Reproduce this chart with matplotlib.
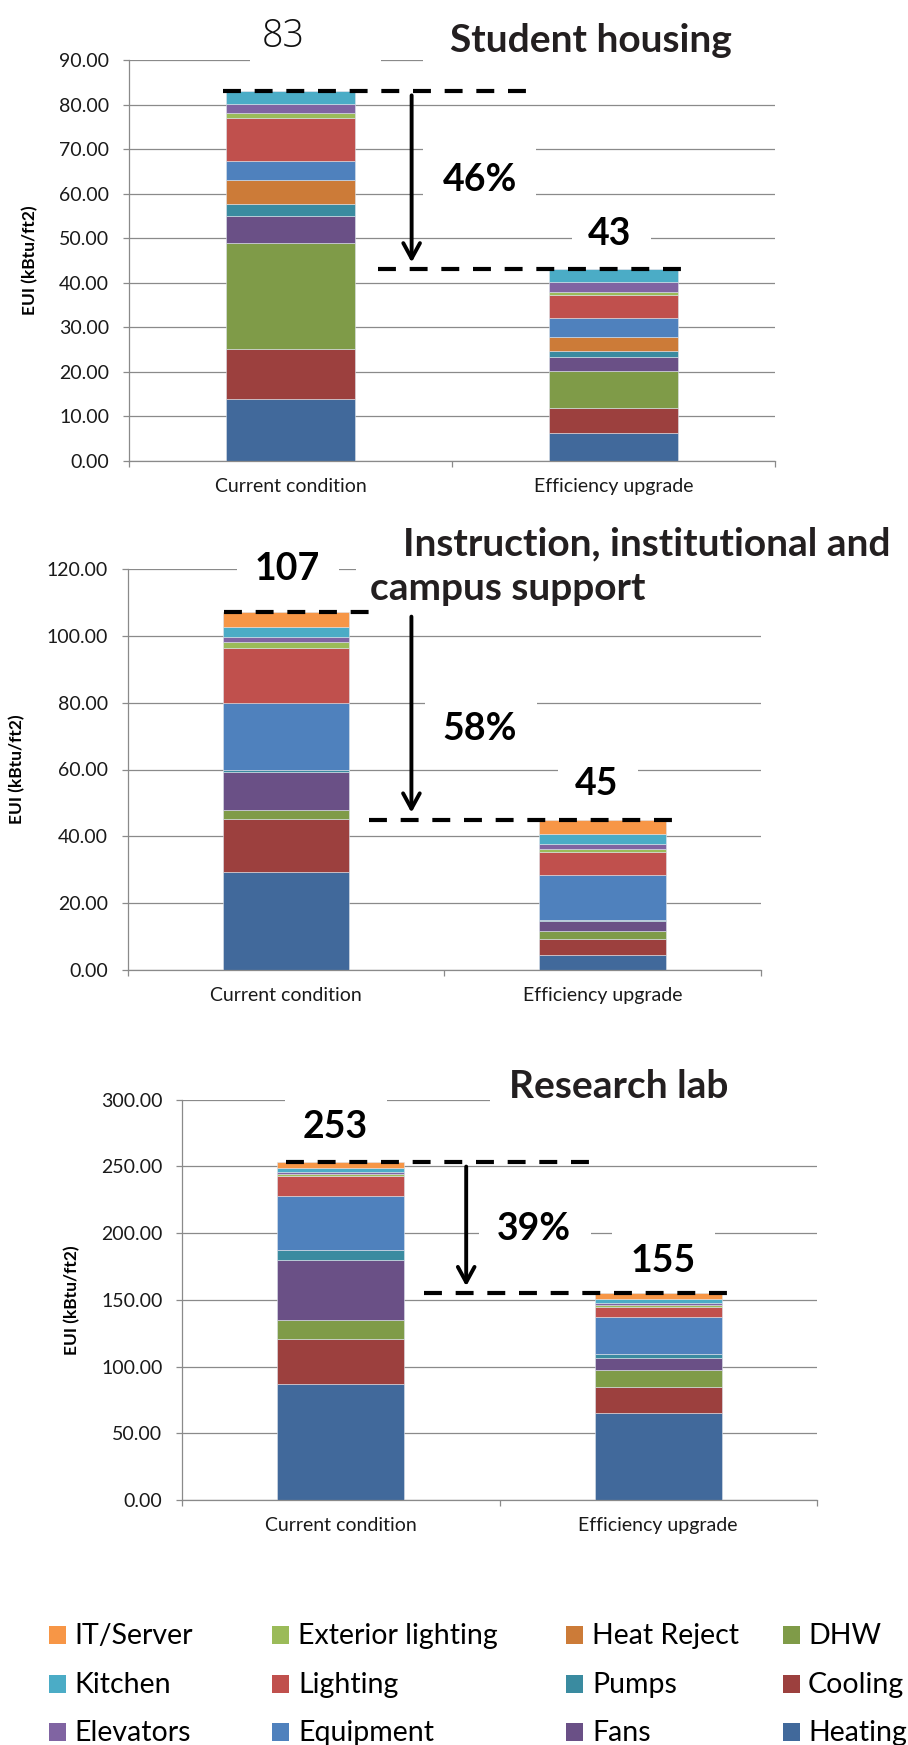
import matplotlib
matplotlib.use("Agg")
import matplotlib.pyplot as plt
from matplotlib.patches import Rectangle
import numpy as np

# ---------------------------------------------------------------- data
categories = ["Heating", "Cooling", "DHW", "Fans", "Pumps", "Heat Reject",
              "Equipment", "Lighting", "Exterior lighting", "Elevators",
              "Kitchen", "IT/Server"]
scenarios = ["Current condition", "Efficiency upgrade"]

# EUI by end use (kBtu/ft2), listed bottom to top of each stack
student_current = [13.9, 11.3, 23.7, 6.1, 2.7, 5.4, 4.2, 9.7, 1.0, 2.2, 2.8, 0.0]
student_upgrade = [6.3, 5.7, 8.3, 3.0, 1.4, 3.1, 4.4, 5.1, 0.7, 2.2, 2.8, 0.0]
instruction_current = [29.2, 16.1, 2.6, 11.3, 0.6, 0.0, 20.2, 16.4, 1.7, 1.7, 2.7, 4.5]
instruction_upgrade = [4.4, 5.0, 2.3, 2.9, 0.3, 0.0, 13.4, 7.1, 0.9, 1.5, 2.8, 4.4]
lab_current = [87.2, 33.8, 14.0, 44.8, 7.5, 0.0, 40.2, 15.0, 1.8, 1.6, 3.1, 4.0]
lab_upgrade = [65.0, 20.0, 12.2, 9.0, 3.3, 0.0, 27.5, 8.0, 1.5, 1.5, 2.8, 4.2]

panel_titles = [["Student housing"],
                ["Instruction, institutional and", "campus support"],
                ["Research lab"]]
reduction_labels = ["46%", "58%", "39%"]
y_max = [90, 120, 300]
y_step = [10, 20, 50]

# ---------------------------------------------------------------- styles
colors = {
    "Heating": "#41699B", "Cooling": "#9C403E", "DHW": "#7F9B48",
    "Fans": "#6A5086", "Pumps": "#3A8BA0", "Heat Reject": "#CC7B38",
    "Equipment": "#4F81BD", "Lighting": "#C0504D", "Exterior lighting": "#9BBB59",
    "Elevators": "#8064A2", "Kitchen": "#4BACC6", "IT/Server": "#F79646",
}
GRID = "#8a8a8a"
W, H = 908, 1745
BODY = "Lato"

plt.rcParams["font.family"] = [BODY, "DejaVu Sans"]

fig = plt.figure(figsize=(W / 100, H / 100), dpi=100)
fig.patch.set_facecolor("white")


def fx(x):
    return x / W


def fy(y):
    return 1 - y / H


# panel layout in pixels (left, top, right, bottom) plus annotation placement
layout = [
    dict(box=(129, 60, 775, 461), ylabel_x=38,
         top_dash=(-0.21, 0.74), low_dash=(0.27, 1.215), arrow_x=0.375,
         totals=[(283, 47, "light"), (610, 245, "bold")],
         pct=(480, 191),
         titles=[(450, 52)],
         masks=[(250, 381, 12, 72), (423, 800, 0, 72),
                (423, 536, 125, 205), (572, 651, 215, 255)]),
    dict(box=(127.7, 569, 761, 970), ylabel_x=25,
         top_dash=(-0.196, 0.266), low_dash=(0.262, 1.225), arrow_x=0.396,
         totals=[(287, 580, "bold"), (597, 795, "bold")],
         pct=(480, 740),
         titles=[(403, 555), (370, 600)],
         masks=[(237, 339, 530, 600), (390, 905, 505, 575),
                (356, 660, 560, 604), (425, 537, 692, 760),
                (558, 638, 752, 802)]),
    dict(box=(182.3, 1099.7, 816.7, 1500), ylabel_x=80,
         top_dash=(-0.174, 0.787), low_dash=(0.262, 1.222), arrow_x=0.395,
         totals=[(335, 1138, "bold"), (663, 1272, "bold")],
         pct=(534, 1240),
         titles=[(509, 1098)],
         masks=[(285, 387, 1080, 1150), (490, 840, 1040, 1110),
                (479, 591, 1200, 1250), (612, 715, 1212, 1284)]),
]

panel_data = [(student_current, student_upgrade),
              (instruction_current, instruction_upgrade),
              (lab_current, lab_upgrade)]

x = np.arange(len(scenarios))
dash_style = (0, (4.3, 3.3))

for i, (lay, (cur, upg)) in enumerate(zip(layout, panel_data)):
    l, t, r, b = lay["box"]
    ax = fig.add_axes([fx(l), fy(b), (r - l) / W, (b - t) / H])
    stack = np.array([cur, upg]).T  # rows: end use, cols: scenario
    bottoms = np.zeros(len(scenarios))
    for name, row in zip(categories, stack):
        ax.bar(x, row, bottom=bottoms, width=0.4, color=colors[name],
               edgecolor="#dde3ea", linewidth=0.4, zorder=2)
        bottoms += row
    totals = bottoms.copy()

    ax.set_xlim(-0.5, 1.5)
    ax.set_ylim(0, y_max[i])
    ax.set_yticks(np.arange(0, y_max[i] + y_step[i] / 2, y_step[i]))
    ax.set_yticklabels([f"{v:.2f}" for v in ax.get_yticks()])
    ax.yaxis.grid(True, color=GRID, linewidth=0.9, zorder=0)
    ax.set_axisbelow(True)
    for side in ("top", "right"):
        ax.spines[side].set_visible(False)
    for side in ("left", "bottom"):
        ax.spines[side].set_color(GRID)
        ax.spines[side].set_linewidth(0.9)
    ax.tick_params(axis="y", length=4.3, width=0.9, color=GRID, pad=10,
                   labelsize=14, labelcolor="#1a1a1a")
    ax.set_xticks(x)
    ax.set_xticklabels(scenarios)
    ax.set_xticks([-0.5, 0.5, 1.5], minor=True)
    ax.tick_params(axis="x", which="major", length=0, pad=12, labelsize=14,
                   labelcolor="#1a1a1a")
    ax.tick_params(axis="x", which="minor", length=4.3, width=0.9, color=GRID)
    ax.set_ylabel("EUI (kBtu/ft2)", fontsize=12.5, fontweight="bold")
    ax.yaxis.set_label_coords((lay["ylabel_x"] - l) / (r - l), 0.5)

    # reference lines at each scenario total and the reduction arrow
    ax.plot(lay["top_dash"], [totals[0]] * 2, color="black", lw=3,
            linestyle=dash_style, zorder=5, dash_capstyle="butt", clip_on=False)
    ax.plot(lay["low_dash"], [totals[1]] * 2, color="black", lw=3,
            linestyle=dash_style, zorder=5, dash_capstyle="butt", clip_on=False)
    ax.annotate("", xy=(lay["arrow_x"], totals[1]),
                xytext=(lay["arrow_x"], totals[0]),
                arrowprops=dict(arrowstyle="->,head_length=1.1,head_width=0.6",
                                lw=2.8, color="black", shrinkA=3, shrinkB=5),
                zorder=5, annotation_clip=False)

    # white panels behind the annotations
    for (x0, x1, y0, y1) in lay["masks"]:
        fig.add_artist(Rectangle((fx(x0), fy(y1)), (x1 - x0) / W, (y1 - y0) / H,
                                 transform=fig.transFigure, facecolor="white",
                                 edgecolor="none", zorder=1))

    for (px, py, weight), total in zip(lay["totals"], totals):
        if weight == "light":
            fig.text(fx(px), fy(py), f"{total:.0f}", ha="center", va="baseline",
                     fontsize=27, family=["Open Sans", "DejaVu Sans"],
                     fontweight="light", color="#111111", zorder=3)
        else:
            fig.text(fx(px), fy(py), f"{total:.0f}", ha="center", va="baseline",
                     fontsize=27, fontweight="bold", color="black", zorder=3)
    fig.text(fx(lay["pct"][0]), fy(lay["pct"][1]), reduction_labels[i],
             ha="center", va="baseline", fontsize=27, fontweight="bold",
             color="black", zorder=3)
    for (px, py), line in zip(lay["titles"], panel_titles[i]):
        fig.text(fx(px), fy(py), line, ha="left", va="baseline", fontsize=28,
                 fontweight="bold", color="#231f20", zorder=3)

# ---------------------------------------------------------------- legend
legend_cols_sq = [49, 272, 566, 783]
legend_cols_tx = [74, 298, 592, 808]
legend_rows = [1635, 1684, 1732]
legend_order = categories[::-1]
for k, name in enumerate(legend_order):
    col, row = divmod(k, 3)
    cy = legend_rows[row]
    fig.add_artist(Rectangle((fx(legend_cols_sq[col]), fy(cy + 9)), 17 / W, 18 / H,
                             transform=fig.transFigure, facecolor=colors[name],
                             edgecolor="none", zorder=2))
    fig.text(fx(legend_cols_tx[col]), fy(cy + 9), name, ha="left", va="baseline",
             fontsize=20.5, color="black", zorder=3)

fig.savefig("out.png", dpi=100, facecolor="white")
